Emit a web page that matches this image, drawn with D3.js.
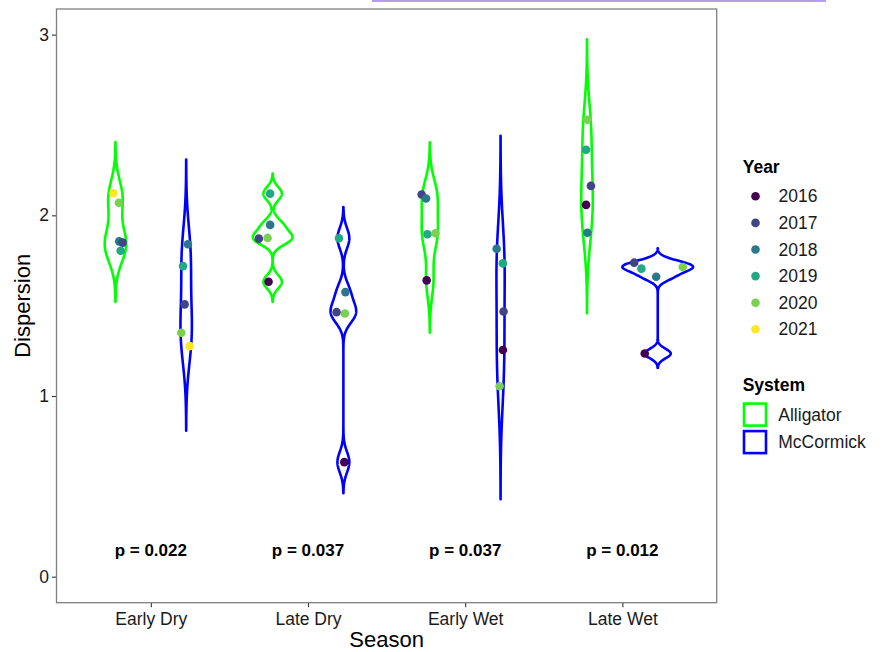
<!DOCTYPE html>
<html>
<head>
<meta charset="utf-8">
<script src="https://cdn.jsdelivr.net/npm/d3@7"></script>
<style>
  body { margin: 0; background: #fff; }
  text { font-family: "Liberation Sans", Arial, sans-serif; fill: #1a1a1a; }
</style>
</head>
<body>
<div id="chart"></div>
<script>
var width = 882,
    height = 652;

// categories
var seasons = ["Early Dry", "Late Dry", "Early Wet", "Late Wet"];
var systems = ["Alligator", "McCormick"];
var years = ["2016", "2017", "2018", "2019", "2020", "2021"];
var pLabels = ["p = 0.022", "p = 0.037", "p = 0.037", "p = 0.012"];

// one entry per observation
var obsSeason = [
  "Early Dry","Early Dry","Early Dry","Early Dry","Early Dry",
  "Early Dry","Early Dry","Early Dry","Early Dry","Early Dry",
  "Late Dry","Late Dry","Late Dry","Late Dry","Late Dry",
  "Late Dry","Late Dry","Late Dry","Late Dry","Late Dry",
  "Early Wet","Early Wet","Early Wet","Early Wet","Early Wet",
  "Early Wet","Early Wet","Early Wet","Early Wet","Early Wet",
  "Late Wet","Late Wet","Late Wet","Late Wet","Late Wet",
  "Late Wet","Late Wet","Late Wet","Late Wet","Late Wet"];
var obsSystem = [
  "Alligator","Alligator","Alligator","Alligator","Alligator",
  "McCormick","McCormick","McCormick","McCormick","McCormick",
  "Alligator","Alligator","Alligator","Alligator","Alligator",
  "McCormick","McCormick","McCormick","McCormick","McCormick",
  "Alligator","Alligator","Alligator","Alligator","Alligator",
  "McCormick","McCormick","McCormick","McCormick","McCormick",
  "Alligator","Alligator","Alligator","Alligator","Alligator",
  "McCormick","McCormick","McCormick","McCormick","McCormick"];
var obsYear = [
  "2021","2020","2018","2017","2019",
  "2018","2019","2017","2020","2021",
  "2019","2018","2017","2020","2016",
  "2019","2018","2017","2020","2016",
  "2017","2018","2019","2020","2016",
  "2018","2019","2017","2016","2020",
  "2020","2019","2017","2016","2018",
  "2017","2019","2018","2020","2016"];
var obsDispersion = [
  2.122, 2.070, 1.856, 1.849, 1.804,
  1.840, 1.719, 1.507, 1.350, 1.276,
  2.120, 1.947, 1.871, 1.875, 1.632,
  1.873, 1.575, 1.464, 1.457, 0.634,
  2.115, 2.093, 1.895, 1.901, 1.640,
  1.815, 1.734, 1.468, 1.255, 1.054,
  2.529, 2.363, 2.163, 2.058, 1.904,
  1.738, 1.705, 1.660, 1.714, 1.235];
// horizontal jitter of each point, in season units
var obsJitter = [
  -0.014, 0.022, 0.024, 0.046, 0.033,
  0.011, -0.020, -0.010, -0.031, 0.022,
  -0.016, -0.016, -0.088, -0.032, -0.026,
  -0.028, 0.013, -0.043, 0.010, 0.006,
  -0.052, -0.024, -0.015, 0.036, -0.020,
  -0.025, 0.015, 0.019, 0.015, -0.006,
  0.002, -0.006, 0.025, -0.006, 0.002,
  -0.150, -0.104, -0.010, 0.159, -0.083];

var points = obsDispersion.map(function(v, i) {
  return { season: obsSeason[i], system: obsSystem[i], year: obsYear[i], value: v, jitter: obsJitter[i] };
});

// panel
var panel = { left: 56.5, right: 716.7, top: 9, bottom: 602.7 };

var yearColor = d3.scaleOrdinal()
    .domain(years)
    .range(["#440154", "#414487", "#2A788E", "#22A884", "#7AD151", "#FDE725"]);
var systemColor = d3.scaleOrdinal()
    .domain(systems)
    .range(["#00FF00", "#0000FF"]);

// kernel density like R's density() with bw.nrd0, cut = 3
function bwNrd0(v) {
  var sd = d3.deviation(v);
  var iqr = (d3.quantile(v, 0.75) - d3.quantile(v, 0.25)) / 1.34;
  return 0.9 * Math.min(sd, iqr) * Math.pow(v.length, -0.2);
}

var groups = [];
seasons.forEach(function(s) {
  systems.forEach(function(sys) {
    var vals = points.filter(function(p) { return p.season == s && p.system == sys; })
                     .map(function(p) { return p.value; })
                     .sort(d3.ascending);
    var bw = bwNrd0(vals);
    var lo = d3.min(vals) - 3 * bw, hi = d3.max(vals) + 3 * bw;
    var n = 512, dens = [];
    for (var k = 0; k < n; k++) {
      var y = lo + (hi - lo) * k / (n - 1);
      var d = d3.sum(vals, function(v) {
        var z = (y - v) / bw;
        return Math.exp(-0.5 * z * z);
      }) / (vals.length * bw * Math.sqrt(2 * Math.PI));
      dens.push({ y: y, d: d });
    }
    groups.push({ season: s, system: sys, dens: dens, lo: lo, hi: hi });
  });
});

var maxDens = d3.max(groups, function(g) { return d3.max(g.dens, function(p) { return p.d; }); });

var x = d3.scaleLinear()
    .domain([0.4, seasons.length + 0.6])
    .range([panel.left, panel.right]);
var y = d3.scaleLinear()
    .domain([-0.144, 3.142])
    .range([panel.bottom, panel.top]);

function xPos(season, system, off) {
  var dodge = systems.indexOf(system) == 0 ? -0.225 : 0.225;
  return x(seasons.indexOf(season) + 1 + dodge + (off || 0));
}

var svg = d3.select("#chart").append("svg")
    .attr("width", width)
    .attr("height", height);

svg.append("rect").attr("width", width).attr("height", height).attr("fill", "#fff");

// screenshot selection strip along the top
svg.append("rect")
    .attr("x", 372).attr("y", 0).attr("width", 454).attr("height", 2)
    .attr("fill", "#b39cf2");

// y axis
var yAxis = svg.append("g")
    .attr("transform", "translate(" + panel.left + ",0)")
    .call(d3.axisLeft(y).tickValues([0, 1, 2, 3]).tickFormat(d3.format("d")).tickSize(4.5).tickPadding(3));
yAxis.select(".domain").remove();
yAxis.selectAll(".tick line").attr("stroke", "#333").attr("stroke-width", 1.1);
yAxis.selectAll(".tick text").style("font-size", "17.5px").attr("fill", "#1a1a1a")
    .style("font-family", "Liberation Sans, Arial, sans-serif");

// x axis
var xAxis = svg.append("g")
    .attr("transform", "translate(0," + panel.bottom + ")")
    .call(d3.axisBottom(x).tickValues([1, 2, 3, 4]).tickFormat(function(d) { return seasons[d - 1]; }).tickSize(4.5).tickPadding(5));
xAxis.select(".domain").remove();
xAxis.selectAll(".tick line").attr("stroke", "#333").attr("stroke-width", 1.1);
xAxis.selectAll(".tick text").style("font-size", "17.5px").attr("fill", "#1a1a1a")
    .style("font-family", "Liberation Sans, Arial, sans-serif");

// panel border
svg.append("rect")
    .attr("x", panel.left).attr("y", panel.top)
    .attr("width", panel.right - panel.left).attr("height", panel.bottom - panel.top)
    .attr("fill", "none").attr("stroke", "#7f7f7f").attr("stroke-width", 1.3);

// violins
var halfWidth = 0.225;
svg.append("g").selectAll("path.violin")
  .data(groups)
  .enter().append("path")
    .attr("class", "violin")
    .attr("fill", "none")
    .attr("stroke", function(d) { return systemColor(d.system); })
    .attr("stroke-width", 2.6)
    .attr("stroke-linejoin", "round")
    .attr("d", function(g) {
      var right = g.dens.map(function(p) { return [xPos(g.season, g.system, halfWidth * p.d / maxDens), y(p.y)]; });
      var left = g.dens.slice().reverse().map(function(p) { return [xPos(g.season, g.system, -halfWidth * p.d / maxDens), y(p.y)]; });
      return d3.line()(right.concat(left)) + "Z";
    });

// points
svg.append("g").selectAll("circle")
  .data(points)
  .enter().append("circle")
    .attr("cx", function(d) { return xPos(d.season, d.system, d.jitter); })
    .attr("cy", function(d) { return y(d.value); })
    .attr("r", 4.3)
    .attr("fill", function(d) { return yearColor(d.year); });

// p values
svg.append("g").selectAll("text")
  .data(pLabels)
  .enter().append("text")
    .attr("x", function(d, i) { return x(i + 1); })
    .attr("y", y(0.15))
    .attr("dy", "0.35em")
    .attr("text-anchor", "middle")
    .style("font-size", "17px")
    .style("font-weight", "bold")
    .style("fill", "#000")
    .text(function(d) { return d; });

// axis titles
svg.append("text")
    .attr("x", (panel.left + panel.right) / 2)
    .attr("y", 646.5)
    .attr("text-anchor", "middle")
    .style("font-size", "22px")
    .style("fill", "#000")
    .text("Season");
svg.append("text")
    .attr("transform", "translate(29.5," + (panel.top + panel.bottom) / 2 + ")rotate(-90)")
    .attr("text-anchor", "middle")
    .style("font-size", "22px")
    .style("fill", "#000")
    .text("Dispersion");

// legend: Year
var leg = svg.append("g");
leg.append("text")
    .attr("x", 742.7).attr("y", 172.5)
    .style("font-size", "17.5px").style("font-weight", "bold").style("fill", "#000")
    .text("Year");
var yearRow = leg.selectAll("g.year")
  .data(years)
  .enter().append("g")
    .attr("class", "year")
    .attr("transform", function(d, i) { return "translate(755.5," + (196.3 + i * 26.6) + ")"; });
yearRow.append("circle").attr("r", 4.3).attr("fill", function(d) { return yearColor(d); });
yearRow.append("text")
    .attr("x", 23).attr("dy", "0.35em")
    .style("font-size", "17.5px")
    .text(function(d) { return d; });

// legend: System
leg.append("text")
    .attr("x", 742.7).attr("y", 390.5)
    .style("font-size", "17.5px").style("font-weight", "bold").style("fill", "#000")
    .text("System");
var sysRow = leg.selectAll("g.sys")
  .data(systems)
  .enter().append("g")
    .attr("class", "sys")
    .attr("transform", function(d, i) { return "translate(742.7," + (402.3 + i * 27.5) + ")"; });
sysRow.append("rect")
    .attr("x", 1.3).attr("y", 1.3).attr("width", 22).attr("height", 22)
    .attr("fill", "#fff")
    .attr("stroke", function(d) { return systemColor(d); })
    .attr("stroke-width", 2.6);
sysRow.append("text")
    .attr("x", 35.6).attr("y", 12.3).attr("dy", "0.35em")
    .style("font-size", "17.5px")
    .text(function(d) { return d; });
</script>
</body>
</html>
